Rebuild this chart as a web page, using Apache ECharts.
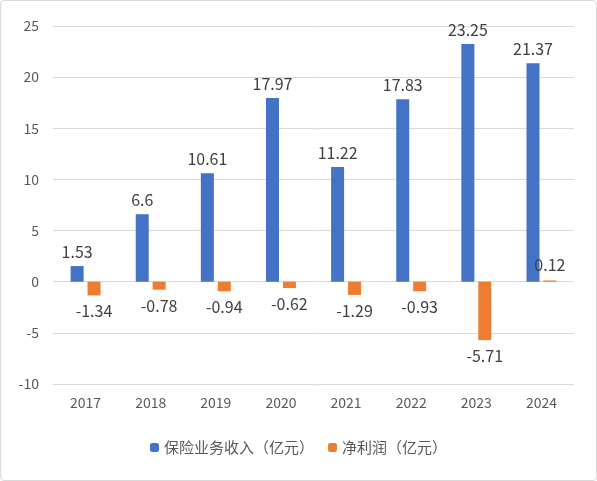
<!DOCTYPE html>
<html><head><meta charset="utf-8">
<script src="https://cdn.jsdelivr.net/npm/echarts@6/dist/echarts.min.js"></script>
<style>html,body{margin:0;padding:0;background:#fff}#c{width:597px;height:481px;box-sizing:border-box;border:1px solid #d9d9d9;border-radius:4px}</style>
</head><body><div id="c"></div>
<script>
const years = ['2017','2018','2019','2020','2021','2022','2023','2024'];
const revenue = [1.53, 6.6, 10.61, 17.97, 11.22, 17.83, 23.25, 21.37];
const profit = [-1.34, -0.78, -0.94, -0.62, -1.29, -0.93, -5.71, 0.12];
const yTicks = { min: -10, max: 25, interval: 5 };

const font = '"Noto Sans CJK SC", "Noto Sans", sans-serif';
const withLabel = arr => arr.map(v => ({ value: v, label: { position: v < 0 ? 'bottom' : 'top' } }));

const chart = echarts.init(document.getElementById('c'));
chart.setOption({
  textStyle: { fontFamily: font },
  grid: { left: 52, right: 22, top: 25, bottom: 96 },
  legend: {
    bottom: 20, itemWidth: 9, itemHeight: 9, itemGap: 14,
    textStyle: { color: '#595959', fontSize: 15, fontFamily: font },
    data: ['保险业务收入（亿元）', '净利润（亿元）']
  },
  xAxis: {
    type: 'category', data: years,
    axisLine: { show: false }, axisTick: { show: false },
    axisLabel: { color: '#595959', fontSize: 14, margin: 12 }
  },
  yAxis: {
    type: 'value', min: yTicks.min, max: yTicks.max, interval: yTicks.interval,
    axisLabel: { color: '#595959', fontSize: 14, margin: 14 },
    splitLine: { lineStyle: { color: '#d9d9d9' } }
  },
  series: [
    { name: '保险业务收入（亿元）', type: 'bar', data: withLabel(revenue), barWidth: 13, barGap: '30%',
      itemStyle: { color: '#4472C4' },
      label: { show: true, color: '#404040', fontSize: 16, distance: 6 } },
    { name: '净利润（亿元）', type: 'bar', data: withLabel(profit), barWidth: 13,
      itemStyle: { color: '#ED7D31' },
      label: { show: true, color: '#404040', fontSize: 16, distance: 8 } }
  ]
});
</script></body></html>
